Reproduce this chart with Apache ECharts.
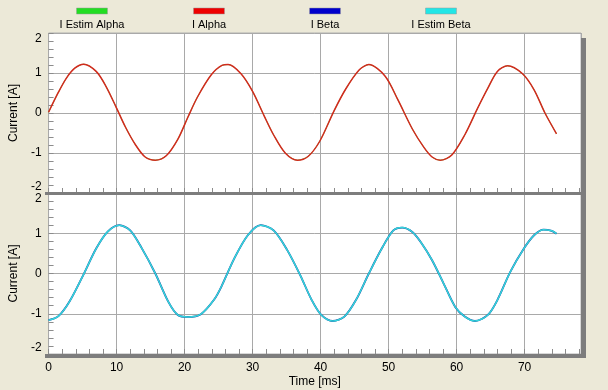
<!DOCTYPE html>
<html>
<head>
<meta charset="utf-8">
<script src="https://cdn.jsdelivr.net/npm/echarts@6/dist/echarts.min.js"></script>
<style>
  html, body { margin: 0; padding: 0; background: #ece9d8; }
  #chart { width: 608px; height: 390px; }
</style>
</head>
<body>
<div id="chart"></div>
<script>
// legend
const seriesNames = ['I Estim Alpha', 'I Alpha', 'I Beta', 'I Estim Beta'];
const seriesColors = ['#22dd22', '#ee0000', '#0000cc', '#22e6e6'];

// tick labels
const timeTicks = [0, 10, 20, 30, 40, 50, 60, 70];
const currentTicks = [-2, -1, 0, 1, 2];

// top panel, I Alpha (ms / A)
const alphaTime = [0, 1.45, 2.65, 3.85, 5.16, 7.0, 8.4, 9.9, 11.3, 12.8, 14.2, 15.7, 17.3, 19.0,
  20.5, 21.9, 23.9, 25.5, 26.4, 28.3, 30.0, 31.7, 33.1, 34.8, 36.6, 38.2, 39.9, 42.0, 43.7,
  45.7, 47.1, 49.5, 51.4, 53.5, 55.2, 56.4, 57.6, 59.3, 61.2, 63.1, 64.6, 66.0, 67.5, 69.7,
  71.4, 73.0, 74.7];
const iAlpha = [0.02, 0.52, 0.88, 1.12, 1.22, 1.04, 0.68, 0.16, -0.35, -0.8, -1.1, -1.18, -1.07, -0.66,
  -0.1, 0.4, 0.95, 1.19, 1.21, 0.98, 0.54, -0.07, -0.55, -1.0, -1.18, -1.08, -0.7, 0.06, 0.6,
  1.08, 1.21, 0.92, 0.32, -0.4, -0.86, -1.1, -1.18, -1.05, -0.55, 0.12, 0.62, 1.04, 1.18, 0.98,
  0.58, 0.0, -0.52];
const iEstimAlpha = iAlpha.slice();

// bottom panel, I Estim Beta (ms / A)
const betaTime = [0, 1.45, 3.1, 5.1, 7.0, 8.7, 10.4, 12.0, 13.7, 15.7, 17.6, 19.0, 20.5, 22.4,
  24.3, 25.4, 27.3, 29.3, 31.2, 33.1, 35.1, 37.0, 38.7, 40.1, 41.8, 43.5, 45.2, 47.1, 49.0,
  50.7, 52.0, 53.5, 54.9, 56.4, 58.1, 59.8, 61.2, 62.7, 64.6, 66.0, 67.9, 69.9, 71.4, 72.8,
  74.0, 74.7];
const iEstimBeta = [-1.16, -1.06, -0.69, -0.04, 0.62, 1.04, 1.2, 1.07, 0.63, 0.0, -0.7, -1.03, -1.08, -1.01,
  -0.66, -0.33, 0.37, 0.95, 1.2, 1.07, 0.58, -0.04, -0.66, -1.03, -1.18, -1.07, -0.66, 0.0, 0.62,
  1.07, 1.14, 1.03, 0.74, 0.33, -0.25, -0.83, -1.07, -1.18, -1.03, -0.66, 0.04, 0.62, 0.95, 1.09,
  1.06, 0.99];
const iBeta = iEstimBeta.slice();

const pairs = (t, v) => t.map((x, i) => [x, v[i]]);

const font = 'Liberation Sans, Arial, sans-serif';
const gridColor = '#a9a9a9';
const tickColor = '#8c8c8c';
const xMax = 78.3;

const chart = echarts.init(document.getElementById('chart'), null, { renderer: 'canvas' });

function mainX(grid, showLabels) {
  return {
    type: 'value', gridIndex: grid, position: 'bottom', min: 0, max: xMax, interval: 10,
    axisLine: { show: false }, axisTick: { show: false },
    axisLabel: {
      show: showLabels, margin: 8, color: '#000', fontFamily: font, fontSize: 12,
      formatter: v => (timeTicks.indexOf(v) >= 0 ? String(v) : '')
    },
    splitLine: { show: true, lineStyle: { color: gridColor, width: 1 } },
    name: showLabels ? 'Time [ms]' : '', nameLocation: 'middle', nameGap: 22,
    nameTextStyle: { color: '#000', fontFamily: font, fontSize: 12 }
  };
}
function minorX(grid) {
  return {
    type: 'value', gridIndex: grid, position: 'bottom', offset: 0, min: 0, max: xMax, interval: 2,
    axisLine: { show: false },
    axisTick: { show: true, inside: true, length: 5, lineStyle: { color: tickColor } },
    axisLabel: { show: false }, splitLine: { show: false }
  };
}
function mainY(grid) {
  return {
    type: 'value', gridIndex: grid, min: -2, max: 2, interval: 1,
    axisLine: { show: false },
    axisTick: { show: true, inside: true, length: 5, lineStyle: { color: tickColor } },
    minorTick: { show: true, splitNumber: 5, length: 5, lineStyle: { color: tickColor } },
    axisLabel: {
      margin: 7, color: '#000', fontFamily: font, fontSize: 12,
      verticalAlignMinLabel: 'bottom', verticalAlignMaxLabel: 'top',
      formatter: v => (currentTicks.indexOf(v) >= 0 ? String(v) : '')
    },
    splitLine: { show: true, lineStyle: { color: gridColor, width: 1 } },
    name: 'Current [A]', nameLocation: 'middle', nameGap: 16,
    nameTextStyle: { color: '#000', fontFamily: font, fontSize: 12 }
  };
}

function line(name, color, xi, yi, data, width, z) {
  return {
    name: name, type: 'line', xAxisIndex: xi, yAxisIndex: yi, data: data,
    showSymbol: false, smooth: 0.3, z: z,
    lineStyle: { color: color, width: width }, itemStyle: { color: color }
  };
}

// legend drawn as colour bars above the names
const legendCentres = [92, 209, 325, 441];
const legendItems = [];
seriesNames.forEach((n, i) => {
  const cx = legendCentres[i];
  legendItems.push({ type: 'rect', shape: { x: cx - 15.5, y: 8, width: 31, height: 6 },
    style: { fill: seriesColors[i], stroke: '#9a9a9a', lineWidth: 0.5 } });
  legendItems.push({ type: 'text', x: cx, y: 19,
    style: { text: n, align: 'center', verticalAlign: 'top', fill: '#000', font: '11px ' + font } });
});

// frame shadows
const shadow = '#7d7d7d';
const frame = [
  { type: 'rect', shape: { x: 581, y: 38, width: 5, height: 320 }, style: { fill: shadow }, z: 10 },
  { type: 'rect', shape: { x: 45, y: 192, width: 541, height: 3 }, style: { fill: shadow }, z: 10 },
  { type: 'rect', shape: { x: 45, y: 354, width: 541, height: 4 }, style: { fill: shadow }, z: 10 }
];

chart.setOption({
  backgroundColor: '#ece9d8',
  animation: false,
  grid: [
    { left: 39, top: 33, width: 542, height: 160, show: true, backgroundColor: '#fff', borderColor: '#b0b0b0', borderWidth: 1 },
    { left: 39, top: 193, width: 542, height: 161, show: true, backgroundColor: '#fff', borderColor: '#b0b0b0', borderWidth: 1 }
  ],
  xAxis: [mainX(0, false), minorX(0), mainX(1, true), minorX(1)],
  yAxis: [mainY(0), mainY(1)],
  series: [
    line(seriesNames[0], seriesColors[0], 0, 0, pairs(alphaTime, iEstimAlpha), 0.8, 2),
    line(seriesNames[1], '#d22a1e', 0, 0, pairs(alphaTime, iAlpha), 1.5, 3),
    line(seriesNames[2], '#1a3a9a', 2, 1, pairs(betaTime, iBeta), 1.8, 2),
    line(seriesNames[3], '#33d6dc', 2, 1, pairs(betaTime, iEstimBeta), 1.5, 3)
  ],
  graphic: legendItems.concat(frame)
});
</script>
</body>
</html>
